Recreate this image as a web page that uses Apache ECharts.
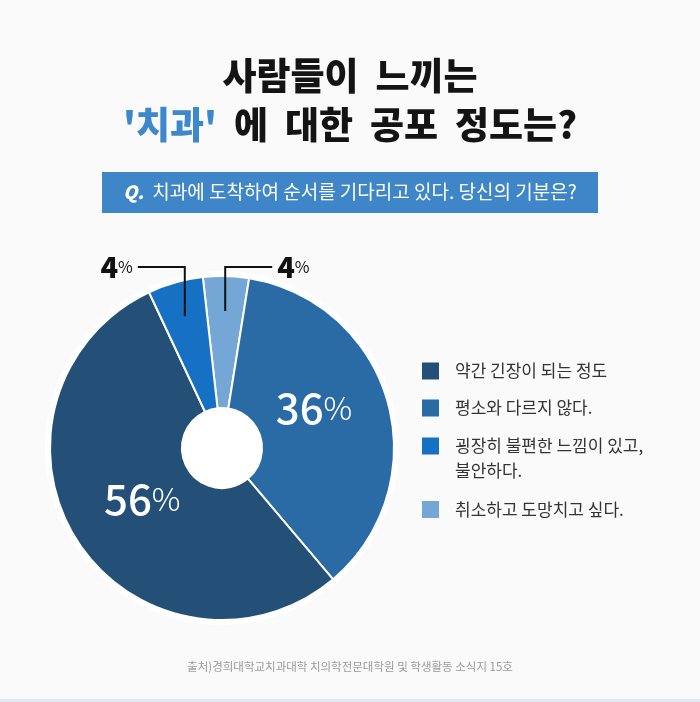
<!DOCTYPE html>
<html><head><meta charset="utf-8">
<script src="https://cdn.jsdelivr.net/npm/echarts@6/dist/echarts.min.js"></script>
<style>html,body{margin:0;padding:0;background:#fafafa}#c{width:700px;height:702px}</style>
</head><body><div id="c"></div>
<script>
// ---- data ----
const categories = ['약간 긴장이 되는 정도', '평소와 다르지 않다.', '굉장히 불편한 느낌이 있고, 불안하다.', '취소하고 도망치고 싶다.'];
const printedPercent = [56, 36, 4, 4];          // numbers printed on the slices
const sliceShare = [54.2, 36.3, 5.2, 4.3];       // share of the circle each slice covers as drawn
const clockwiseFromTop = [3, 1, 0, 2];           // slice order going clockwise
const titleLine1 = '사람들이  느끼는';
const titleLine2Accent = "'치과'";
const titleLine2Rest = '  에  대한  공포  정도는?';
const question = '치과에 도착하여 순서를 기다리고 있다. 당신의 기분은?';
const source = '출처)경희대학교치과대학 치의학전문대학원 및 학생활동 소식지 15호';

// ---- chart ----
const FONT = '"Noto Sans CJK KR", "Noto Sans", sans-serif';
const palette = ['#245078', '#2A6BA6', '#1671C4', '#74A7D6'];
const CENTER = [222, 448], R_IN = 40, R_OUT = 172, R_RING = 177;
const LINE_Y = 267, LINE_LEN = 47, LINE_START_R = 137;

const sliceData = clockwiseFromTop.map(i => ({
  name: categories[i], value: sliceShare[i], pct: printedPercent[i], small: sliceShare[i] < 10,
  itemStyle: { color: palette[i] }
}));

const insideShift = { 1: [-13, -11], 0: [12, -8] };

const mainData = sliceData.map(d => Object.assign({}, d, d.small ? { label: { show: false } } : {}));
const pointerData = sliceData.map(d => ({
  name: d.name, value: d.value, pct: d.pct,
  itemStyle: { color: 'rgba(0,0,0,0)', borderWidth: 0 },
  label: { show: d.small }, labelLine: { show: d.small }
}));

const chart = echarts.init(document.getElementById('c'), null, { renderer: 'canvas' });
chart.setOption({
  backgroundColor: '#fafafa',
  animation: false,
  title: [
    {
      text: titleLine1 + '\n{b|' + titleLine2Accent + '}' + titleLine2Rest,
      left: 'center', top: 51.5, padding: 0,
      textStyle: {
        fontFamily: FONT, fontSize: 37, fontWeight: 900, color: '#141414', lineHeight: 49,
        rich: { b: { fontFamily: FONT, fontSize: 37, fontWeight: 900, color: '#3D88CC', lineHeight: 49 } }
      }
    },
    {
      text: '{q|Q.}  ' + question,
      left: 'center', top: 180, padding: 0,
      textStyle: {
        fontFamily: FONT, fontSize: 19, fontWeight: 400, color: '#ffffff', lineHeight: 24,
        rich: { q: { fontFamily: FONT, fontSize: 18, fontWeight: 900, fontStyle: 'italic', color: '#ffffff', lineHeight: 24 } }
      }
    },
    {
      text: source, left: 'center', top: 659, padding: 0,
      textStyle: { fontFamily: FONT, fontSize: 11.5, fontWeight: 400, color: '#9a9a9a', lineHeight: 16 }
    }
  ],
  graphic: [
    { type: 'rect', left: 102, top: 172, shape: { width: 496, height: 41 }, style: { fill: '#3F86C8' }, z: -1, silent: true },
    { type: 'rect', left: 0, top: 699, shape: { width: 700, height: 3 }, style: { fill: '#DFE8F3' }, z: -1, silent: true }
  ],
  legend: categories.map((name, i) => {
    const multi = name.indexOf(', ') >= 0;
    const iconCenter = [371, 408, 446, 509.5][i];
    return {
      data: [name], orient: 'vertical', left: 422, padding: 0,
      top: iconCenter - (multi ? 37.5 : 12.5),
      icon: 'rect', itemWidth: 17, itemHeight: 17, selectedMode: false,
      itemStyle: { borderWidth: 0 },
      formatter: n => {
        const lines = n.split(', ');
        if (lines.length > 1) return '\n{t|' + lines[0] + ',}\n{t|' + lines[1] + '}';
        return '{t|' + n + '}';
      },
      textStyle: { fontFamily: FONT, fontSize: 17, color: '#333', lineHeight: 25,
        rich: { t: { fontFamily: FONT, fontSize: 17, color: '#333', lineHeight: 25, padding: [0, 0, 0, 11] } } }
    };
  }),
  series: [
    {
      type: 'pie', z: 3, center: CENTER, radius: [R_IN, R_OUT],
      startAngle: 90 + 6.4, clockwise: true, avoidLabelOverlap: false,
      emphasis: { disabled: true, scale: false },
      itemStyle: { borderColor: '#ffffff', borderWidth: 2 },
      label: {
        show: true, position: 'inside',
        formatter: p => '{n|' + p.data.pct + '}{p|%}',
        rich: {
          n: { fontFamily: FONT, fontSize: 42, fontWeight: 500, color: '#fff' },
          p: { fontFamily: FONT, fontSize: 32, fontWeight: 300, color: '#fff' }
        }
      },
      labelLine: { show: false },
      labelLayout: function (p) {
        const cat = clockwiseFromTop[p.dataIndex];
        const s = insideShift[cat] || [0, 0];
        return { dx: s[0], dy: s[1] };
      },
      data: mainData
    },
    {
      // transparent overlay: its label lines start inside the slices
      type: 'pie', z: 5, silent: true, center: CENTER, radius: [0, LINE_START_R],
      startAngle: 90 + 6.4, clockwise: true, avoidLabelOverlap: false,
      emphasis: { disabled: true, scale: false },
      label: {
        position: 'outside',
        formatter: p => '{n|' + p.data.pct + '}{p|%}',
        rich: {
          n: { fontFamily: FONT, fontSize: 29, fontWeight: 900, color: '#111' },
          p: { fontFamily: FONT, fontSize: 16, fontWeight: 400, color: '#111' }
        }
      },
      labelLine: { length: 10, length2: 10, lineStyle: { color: '#111', width: 2 } },
      labelLayout: function (p) {
        const pts = p.labelLinePoints;
        if (!pts) return {};
        const sx = pts[0][0], sy = pts[0][1];
        const dir = sx < CENTER[0] ? -1 : 1;
        return {
          x: sx + dir * (LINE_LEN + 5), y: LINE_Y,
          align: dir < 0 ? 'right' : 'left', verticalAlign: 'middle',
          labelLinePoints: [[sx, sy], [sx, LINE_Y], [sx + dir * LINE_LEN, LINE_Y]]
        };
      },
      data: pointerData
    },
    {
      type: 'pie', z: 1, silent: true, center: CENTER, radius: [0, R_RING],
      startAngle: 90 + 6.4, clockwise: true,
      label: { show: false }, labelLine: { show: false },
      emphasis: { disabled: true },
      itemStyle: { color: '#ffffff', borderWidth: 0 },
      data: clockwiseFromTop.map(i => ({ value: sliceShare[i] }))
    }
  ]
});
</script>
</body></html>
